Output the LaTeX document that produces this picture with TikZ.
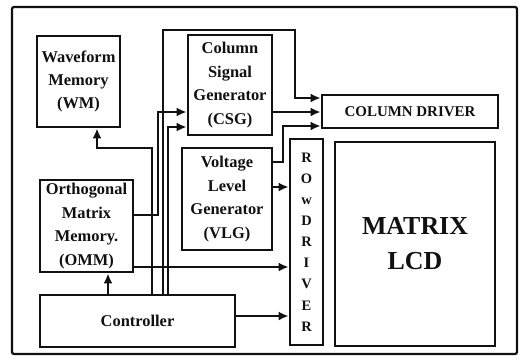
\documentclass[tikz,border=0pt]{standalone}
\usepackage{fontspec}
\setmainfont{Liberation Serif}
\usetikzlibrary{arrows.meta,calc,positioning}
\definecolor{dgInk}{HTML}{111111}
\tikzset{
 lcdsys/.style={x=1bp,y=-1bp,text=dgInk},
 block/.style={rectangle,draw=dgInk,fill=white,line width=2.8bp,inner sep=0pt,align=center,
   font=\fontsize{16.5}{23.5}\selectfont\bfseries},
 driver/.style={block,font=\fontsize{15}{21}\selectfont\bfseries},
 panel/.style={block,font=\fontsize{26}{35}\selectfont\bfseries},
 outerframe/.style={draw=dgInk,line width=2.2bp,rounded corners=2bp},
 wire/.style={draw=dgInk,line width=2bp},
 feed/.style={wire,-{Latex[length=10bp,width=9bp]}}
}

\begin{document}
\begin{tikzpicture}[lcdsys]
 \useasboundingbox (0,0) rectangle (523,359);
 \draw[outerframe] (12,7) rectangle (517,354);
 % blocks
 \node[block,minimum width=83bp,minimum height=91bp] (wm) at (78.5,81.5) {Waveform\\Memory\\(WM)};
 \node[block,minimum width=84bp,minimum height=100bp] (csg) at (230,85) {Column\\Signal\\Generator\\(CSG)};
 \node[block,minimum width=90bp,minimum height=102bp] (vlg) at (227,199) {Voltage\\Level\\Generator\\(VLG)};
 \node[block,minimum width=93bp,minimum height=92bp] (omm) at (86.5,226) {Orthogonal\\Matrix\\Memory.\\(OMM)};
 \node[block,minimum width=195bp,minimum height=52bp] (ctrl) at (137.5,321) {Controller};
 \node[driver,minimum width=176bp,minimum height=33bp] (cdrv) at (410,111.5) {COLUMN DRIVER};
 \node[driver,minimum width=33bp,minimum height=206bp,font=\fontsize{14.5}{21.2}\selectfont\bfseries]
   (rdrv) at (306.5,242) {R\\O\\w\\D\\R\\I\\V\\E\\R};
 \node[panel,minimum width=160bp,minimum height=204bp] (lcd) at (415,244) {MATRIX\\LCD};
 % bus lanes out of the controller
 \coordinate (laneW) at (152,148);
 \coordinate (laneT) at (163,30);
 \coordinate (laneC) at (168,127);
 \coordinate (laneO) at (158,112);
 \coordinate (turnT) at (295,30);
 \coordinate (turnV) at (283,126);
 % connectors
 \draw[feed] (ctrl.north -| 108,0) -- (omm.south -| 108,0);
 \draw[feed] (ctrl.north -| laneW) -- (laneW) -| (wm.south -| 97,0);
 \draw[feed] (omm.east |- 0,215) -| (laneO) -- (csg.west |- laneO);
 \draw[feed] (ctrl.north -| laneC) -- (laneC) -- (csg.west |- laneC);
 \draw[feed] (ctrl.north -| laneT) -- (laneT) -- (turnT) |- (cdrv.west |- 0,98);
 \draw[feed] (csg.east |- 0,112) -- (cdrv.west |- 0,112);
 \draw[feed] (vlg.east |- 0,162) -| (turnV) -- (cdrv.west |- turnV);
 \draw[feed] (vlg.east |- 0,187) -- (rdrv.west |- 0,187);
 \draw[feed] (omm.east |- 0,267) -- (rdrv.west |- 0,267);
 \draw[feed] (ctrl.east |- 0,316) -- (rdrv.west |- 0,316);
\end{tikzpicture}
\end{document}
